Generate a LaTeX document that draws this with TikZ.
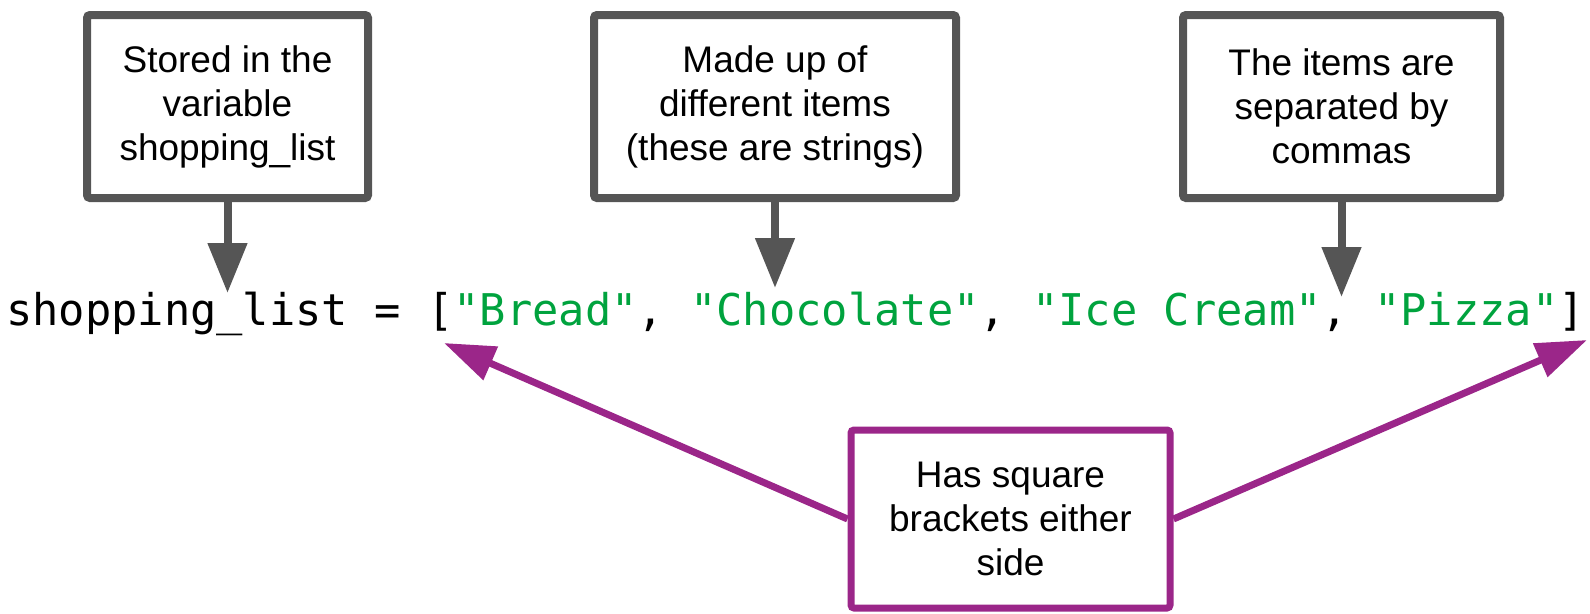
\documentclass[tikz,border=0pt]{standalone}
\usepackage{fontspec}
\setmainfont{Liberation Sans}
\setmonofont{DejaVu Sans Mono}
\usetikzlibrary{arrows.meta, positioning}
\definecolor{boxgray}{RGB}{85,85,85}
\definecolor{notepurple}{RGB}{155,38,137}
\definecolor{codegreen}{RGB}{0,163,62}
\newcommand{\str}[1]{\textcolor{codegreen}{#1}}

\begin{document}
\begin{tikzpicture}[
        x=1pt, y=-1pt,
        note/.style={draw=boxgray, line width=8pt, rounded corners=3pt, align=center, inner sep=0pt,
            font=\fontsize{37}{44}\selectfont, minimum height=183pt},
        bracketnote/.style={note, draw=notepurple, line width=7pt, minimum height=178pt},
        arrow/.style={-{Triangle[length=50pt, width=38pt]}, line width=8pt, draw=boxgray},
        purplearrow/.style={-{Triangle[length=51pt, width=35pt]}, line width=7pt, draw=notepurple}
    ]
    \useasboundingbox (0,0) rectangle (1590,613);

    % the three notes on top
    \node[note, minimum width=281pt] (stored) at (227.5,106.5) {Stored in the\\variable\\shopping\_list};
    \node[note, minimum width=362pt] (items) at (775,106.5) {Made up of\\different items\\(these are strings)};
    \node[note, minimum width=317pt] (commas) at (1341.5,106.5) {The items are\\separated by\\commas};

    % the list itself
    \node[anchor=base west, inner sep=0pt, font=\ttfamily\frenchspacing\fontsize{43.7}{50}\selectfont] (code) at (6,325)
        {shopping\_list = [\str{"Bread"}, \str{"Chocolate"}, \str{"Ice Cream"}, \str{"Pizza"}]};

    % note at the bottom
    \node[bracketnote, minimum width=319pt] (brackets) at (1010.5,519) {Has square\\brackets either\\side};

    \coordinate (storedtip) at (227.5,293);
    \coordinate (itemstip) at (775,288);
    \coordinate (commastip) at (1341.5,297);
    \coordinate (openbr) at (444,343);
    \coordinate (closebr) at (1587,340);

    \draw [arrow] (stored) -- (storedtip);
    \draw [arrow] (items) -- (itemstip);
    \draw [arrow] (commas) -- (commastip);
    \draw [purplearrow] (brackets.west) -- (openbr);
    \draw [purplearrow] (brackets.east) -- (closebr);

\end{tikzpicture}
\end{document}
